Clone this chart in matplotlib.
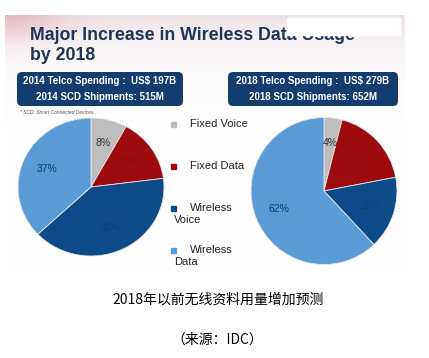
import numpy as np
import matplotlib.pyplot as plt
from matplotlib.patches import FancyBboxPatch, Rectangle

plt.rcParams['font.family'] = ['Liberation Sans', 'DejaVu Sans']

# data
segments = [('Fixed Voice', ''), ('Fixed Data', ''), ('Wireless', 'Voice'), ('Wireless', 'Data')]
share_2014 = [8, 15, 40, 37]
share_2018 = [4, 18, 16, 62]
box_2014 = ['2014 Telco Spending :  US$ 197B', '2014 SCD Shipments: 515M']
box_2018 = ['2018 Telco Spending :  US$ 279B', '2018 SCD Shipments: 652M']
title = 'Major Increase in Wireless Data Usage\nby 2018'
caption = '2018年以前无线资料用量增加预测'
source = '（来源：IDC）'

colors = ['#bdbdbd', '#9e0b0f', '#0e4a8a', '#5a9ad6']
label_colors = ['#333333', '#8a0a0d', '#0b3d75', '#0b3d75']

W, H = 429, 358
fig = plt.figure(figsize=(W / 100, H / 100), dpi=100)

# background axes in pixel coordinates
bg = fig.add_axes([0, 0, 1, 1])
bg.set_xlim(0, W)
bg.set_ylim(H, 0)
bg.axis('off')

# slide background: white with a faint pink/grey wash at the top
grad = np.linspace(0, 1, 200)
gx, gy = np.meshgrid(grad, grad)
wash = np.exp(-gy / 0.12) * 0.12
pink = np.exp(-((gx) ** 2 / 0.02 + gy ** 2 / 0.01)) * 0.25
img = np.dstack([1 - wash * 0.6 - pink * 0.1,
                 1 - wash - pink * 0.6,
                 1 - wash * 0.9 - pink * 0.5])
bg.imshow(np.clip(img, 0, 1), extent=(5, 405, 275, 15), aspect='auto', zorder=0)
bg.add_patch(Rectangle((287, 18), 113, 17, color='white', zorder=3))

bg.text(30, 27, title, fontsize=12.8, fontweight='bold', color='#1d3557',
        va='top', linespacing=1.25, zorder=2)

for x0, bw, lines in [(17, 166, box_2014), (228, 170, box_2018)]:
    bg.add_patch(FancyBboxPatch((x0, 72), bw, 34,
                                boxstyle='round,pad=0,rounding_size=5',
                                fc='#133d6e', ec='none', zorder=2))
    cx = x0 + bw / 2
    bg.text(cx, 81, lines[0], color='white', fontsize=7.0, fontweight='bold',
            ha='center', va='center', zorder=3)
    bg.text(cx, 97, lines[1], color='white', fontsize=7.0, fontweight='bold',
            ha='center', va='center', zorder=3)

bg.text(20, 112, '* SCD: Smart Connected Devices', fontsize=3.5, style='italic',
        color='#555555', va='center')

# legend
leg_y = [124, 166, 208, 250]
for yy, (l1, l2), c in zip(leg_y, segments, colors):
    bg.add_patch(Rectangle((171, yy - 2.5), 5, 5, color=c, zorder=2))
    bg.text(190, yy, l1, fontsize=8, color='#222222', va='center', zorder=2)
    if l2:
        bg.text(174, yy + 12, l2, fontsize=8, color='#222222', va='center', zorder=2)

def draw_pie(cx, cy, w, h, values):
    ax = fig.add_axes([(cx - w / 2) / W, 1 - (cy + h / 2) / H, w / W, h / H])
    wedges, texts, autotexts = ax.pie(values, colors=colors, startangle=90,
                                      counterclock=False, autopct='%d%%',
                                      pctdistance=0.66,
                                      wedgeprops=dict(linewidth=0.6, edgecolor='#e6e6e6'),
                                      textprops=dict(fontsize=7.5))
    for t, c in zip(autotexts, label_colors):
        t.set_color(c)
    ax.set_aspect('auto')
    ax.set_xlim(-1, 1)
    ax.set_ylim(-1, 1)

draw_pie(91, 187, 146, 138, share_2014)
draw_pie(324, 191, 146, 147, share_2018)

fig.text(218 / W, 1 - 300 / H, caption, fontsize=10, ha='center', va='center',
         family=['Noto Sans CJK SC', 'DejaVu Sans'])
fig.text(217 / W, 1 - 340 / H, source, fontsize=10, ha='center', va='center',
         family=['Noto Sans CJK SC', 'DejaVu Sans'])

fig.savefig('out.png', dpi=100)
